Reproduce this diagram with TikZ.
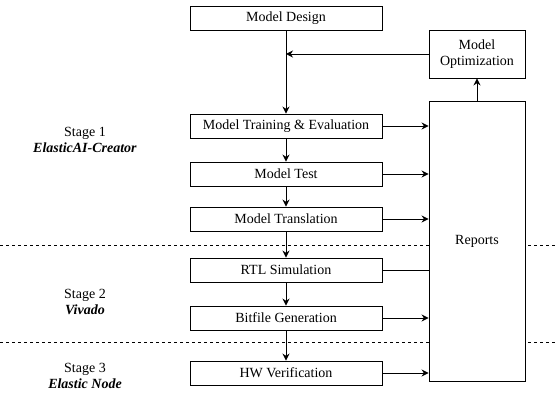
\documentclass[tikz,border=0pt]{standalone}
\usepackage{fontspec}
\setmainfont{Liberation Serif}
\usetikzlibrary{arrows.meta}

\tikzset{
  stepbox/.style={draw, fill=white, line width=0.9pt, minimum width=192pt, minimum height=24pt, inner sep=0pt},
  flow/.style={draw, line width=0.9pt, -{Stealth[length=7pt,width=7pt]}},
  stagelabel/.style={align=center},
  sep/.style={draw, dashed, line width=0.7pt}
}

\begin{document}
\begin{tikzpicture}[x=1pt,y=-1pt,font=\rmfamily\fontsize{14}{16.5}\selectfont]
\useasboundingbox (0,0) rectangle (556,398);

% stage separators
\path[sep] (0,245) -- (556,245);
\path[sep] (0,342) -- (556,342);

\node[stepbox] (design) at (286,18) {Model Design};
\node[stepbox] (train) at (286,126) {Model Training \& Evaluation};
\node[stepbox] (test) at (286,174) {Model Test};
\node[stepbox] (transl) at (286,219) {Model Translation};
\node[stepbox] (rtl) at (286,270) {RTL Simulation};
\node[stepbox] (bitfile) at (286,318) {Bitfile Generation};
\node[stepbox] (hw) at (286,373) {HW Verification};

\node[draw, fill=white, line width=0.9pt, minimum width=96pt, minimum height=48pt, align=center, inner sep=0pt] (optim) at (477,54) {Model\\Optimization};
\node[draw, fill=white, line width=0.9pt, minimum width=96pt, minimum height=280pt, inner sep=0pt] (reports) at (477,241) {Reports};

\node[stagelabel] (stage1) at (85,140) {Stage 1\\\textbf{\textit{ElasticAI-Creator}}};
\node[stagelabel] (stage2) at (85,302) {Stage 2\\\textbf{\textit{Vivado}}};
\node[stagelabel] (stage3) at (85,376) {Stage 3\\\textbf{\textit{Elastic Node}}};

\coordinate (join) at (design.south |- optim.west);

% main flow
\path[draw, line width=0.9pt] (design) -- (join);
\path[flow] (join) -- (train);
\path[flow] (optim) -- (join);
\path[flow] (train) -- (test);
\path[flow] (test) -- (transl);
\path[flow] (transl) -- (rtl);
\path[flow] (rtl) -- (bitfile);
\path[flow] (bitfile) -- (hw);

% reports
\path[flow] (train) -- (train -| reports.west);
\path[flow] (test) -- (test -| reports.west);
\path[flow] (transl) -- (transl -| reports.west);
\path[draw, line width=0.9pt] (rtl) -- (rtl -| reports.west);
\path[flow] (bitfile) -- (bitfile -| reports.west);
\path[flow] (hw) -- (hw -| reports.west);
\path[flow] (reports) -- (optim);
\end{tikzpicture}
\end{document}
